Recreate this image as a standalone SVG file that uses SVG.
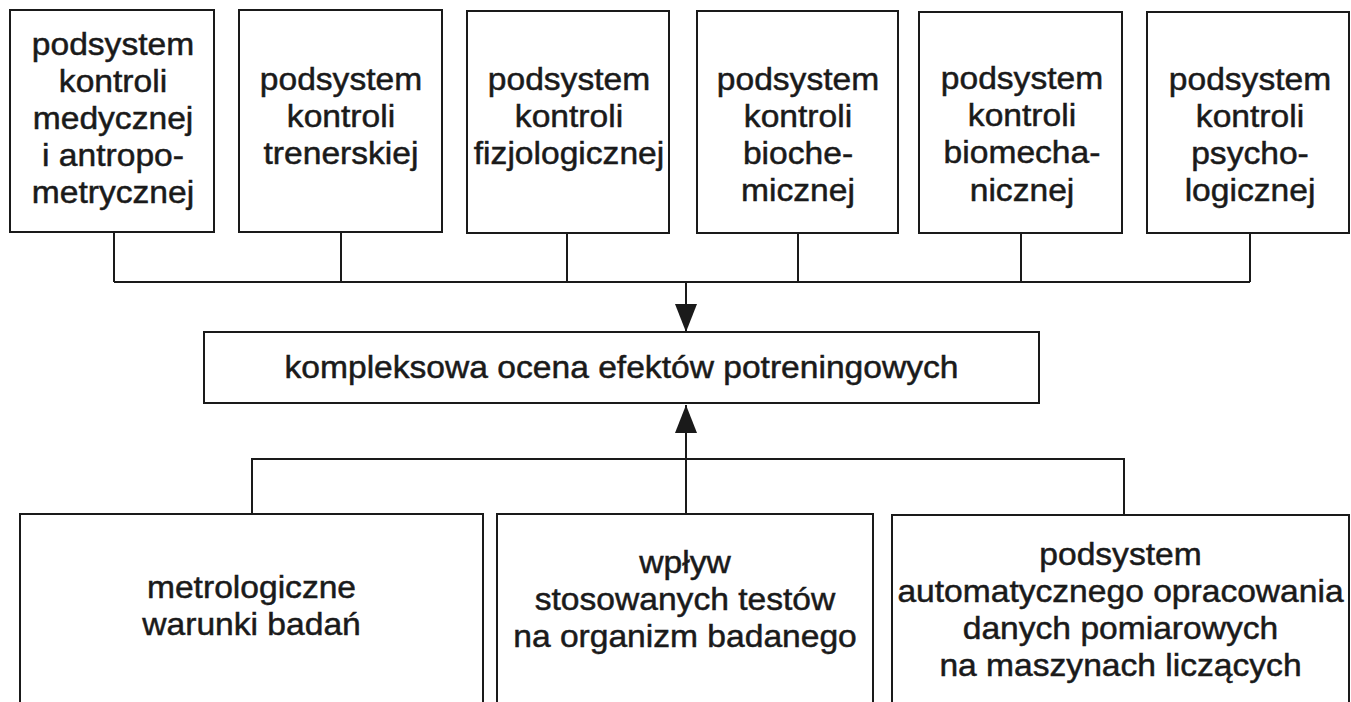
<svg xmlns="http://www.w3.org/2000/svg" width="1351" height="702" viewBox="0 0 1351 702">
<style>
.box{fill:#fff;stroke:#1a1a1a;stroke-width:2}
.ln{fill:none;stroke:#1a1a1a;stroke-width:2}
text{font-family:"Liberation Sans",Arial,sans-serif;font-size:32px;fill:#1a1a1a;stroke:#1a1a1a;stroke-width:0.5;text-anchor:middle}
</style>
<defs>
<marker id="ah" viewBox="0 0 28 22" markerWidth="28" markerHeight="22" refX="28" refY="11" orient="auto" markerUnits="userSpaceOnUse">
<path d="M0,0 L28,11 L0,22 Z" fill="#1a1a1a"/>
</marker>
</defs>
<rect width="1351" height="702" fill="#fff"/>
<g id="connectors">
<path class="ln" d="M114,232 V282 M341,232 V282 M567,232 V282 M798,232 V282 M1021,232 V282 M1250,232 V282 M114,282 H1250"/>
<line class="ln" x1="686" y1="282" x2="686" y2="332" marker-end="url(#ah)"/>
<path class="ln" d="M252,514 V459 H1124 V515"/>
<line class="ln" x1="686" y1="514" x2="686" y2="405" marker-end="url(#ah)"/>
</g>
<g id="n1">
<rect class="box" x="10" y="10" width="204" height="222"/>
<text transform="translate(113 0) scale(1.05 1)"><tspan x="0" y="55">podsystem</tspan><tspan x="0" y="92">kontroli</tspan><tspan x="0" y="129">medycznej</tspan><tspan x="0" y="166">i antropo-</tspan><tspan x="0" y="203">metrycznej</tspan></text>
</g>
<g id="n2">
<rect class="box" x="239" y="10" width="203" height="222"/>
<text transform="translate(341 0) scale(1.05 1)"><tspan x="0" y="90">podsystem</tspan><tspan x="0" y="127">kontroli</tspan><tspan x="0" y="164">trenerskiej</tspan></text>
</g>
<g id="n3">
<rect class="box" x="467" y="11" width="202" height="222"/>
<text transform="translate(569 0) scale(1.05 1)"><tspan x="0" y="90">podsystem</tspan><tspan x="0" y="127">kontroli</tspan><tspan x="0" y="164">fizjologicznej</tspan></text>
</g>
<g id="n4">
<rect class="box" x="697" y="11" width="201" height="222"/>
<text transform="translate(798 0) scale(1.05 1)"><tspan x="0" y="90">podsystem</tspan><tspan x="0" y="127">kontroli</tspan><tspan x="0" y="164">bioche-</tspan><tspan x="0" y="201">micznej</tspan></text>
</g>
<g id="n5">
<rect class="box" x="919" y="12" width="203" height="221"/>
<text transform="translate(1022 0) scale(1.05 1)"><tspan x="0" y="89">podsystem</tspan><tspan x="0" y="126">kontroli</tspan><tspan x="0" y="163">biomecha-</tspan><tspan x="0" y="201">nicznej</tspan></text>
</g>
<g id="n6">
<rect class="box" x="1147" y="12" width="202" height="221"/>
<text transform="translate(1250 0) scale(1.05 1)"><tspan x="0" y="90">podsystem</tspan><tspan x="0" y="127">kontroli</tspan><tspan x="0" y="164">psycho-</tspan><tspan x="0" y="201">logicznej</tspan></text>
</g>
<g id="center">
<rect class="box" x="204" y="332" width="835" height="71"/>
<text transform="translate(621.5 0) scale(1.05 1)"><tspan x="0" y="378">kompleksowa ocena efektów potreningowych</tspan></text>
</g>
<g id="b1">
<rect class="box" x="20" y="514" width="463" height="192"/>
<text transform="translate(251.5 0) scale(1.05 1)"><tspan x="0" y="598">metrologiczne</tspan><tspan x="0" y="635">warunki badań</tspan></text>
</g>
<g id="b2">
<rect class="box" x="497" y="514" width="376" height="192"/>
<text transform="translate(685 0) scale(1.05 1)"><tspan x="0" y="573">wpływ</tspan><tspan x="0" y="610">stosowanych testów</tspan><tspan x="0" y="647">na organizm badanego</tspan></text>
</g>
<g id="b3">
<rect class="box" x="892" y="515" width="457" height="191"/>
<text transform="translate(1120.5 0) scale(1.05 1)"><tspan x="0" y="565">podsystem</tspan><tspan x="0" y="602">automatycznego opracowania</tspan><tspan x="0" y="639">danych pomiarowych</tspan><tspan x="0" y="676">na maszynach liczących</tspan></text>
</g>
</svg>
